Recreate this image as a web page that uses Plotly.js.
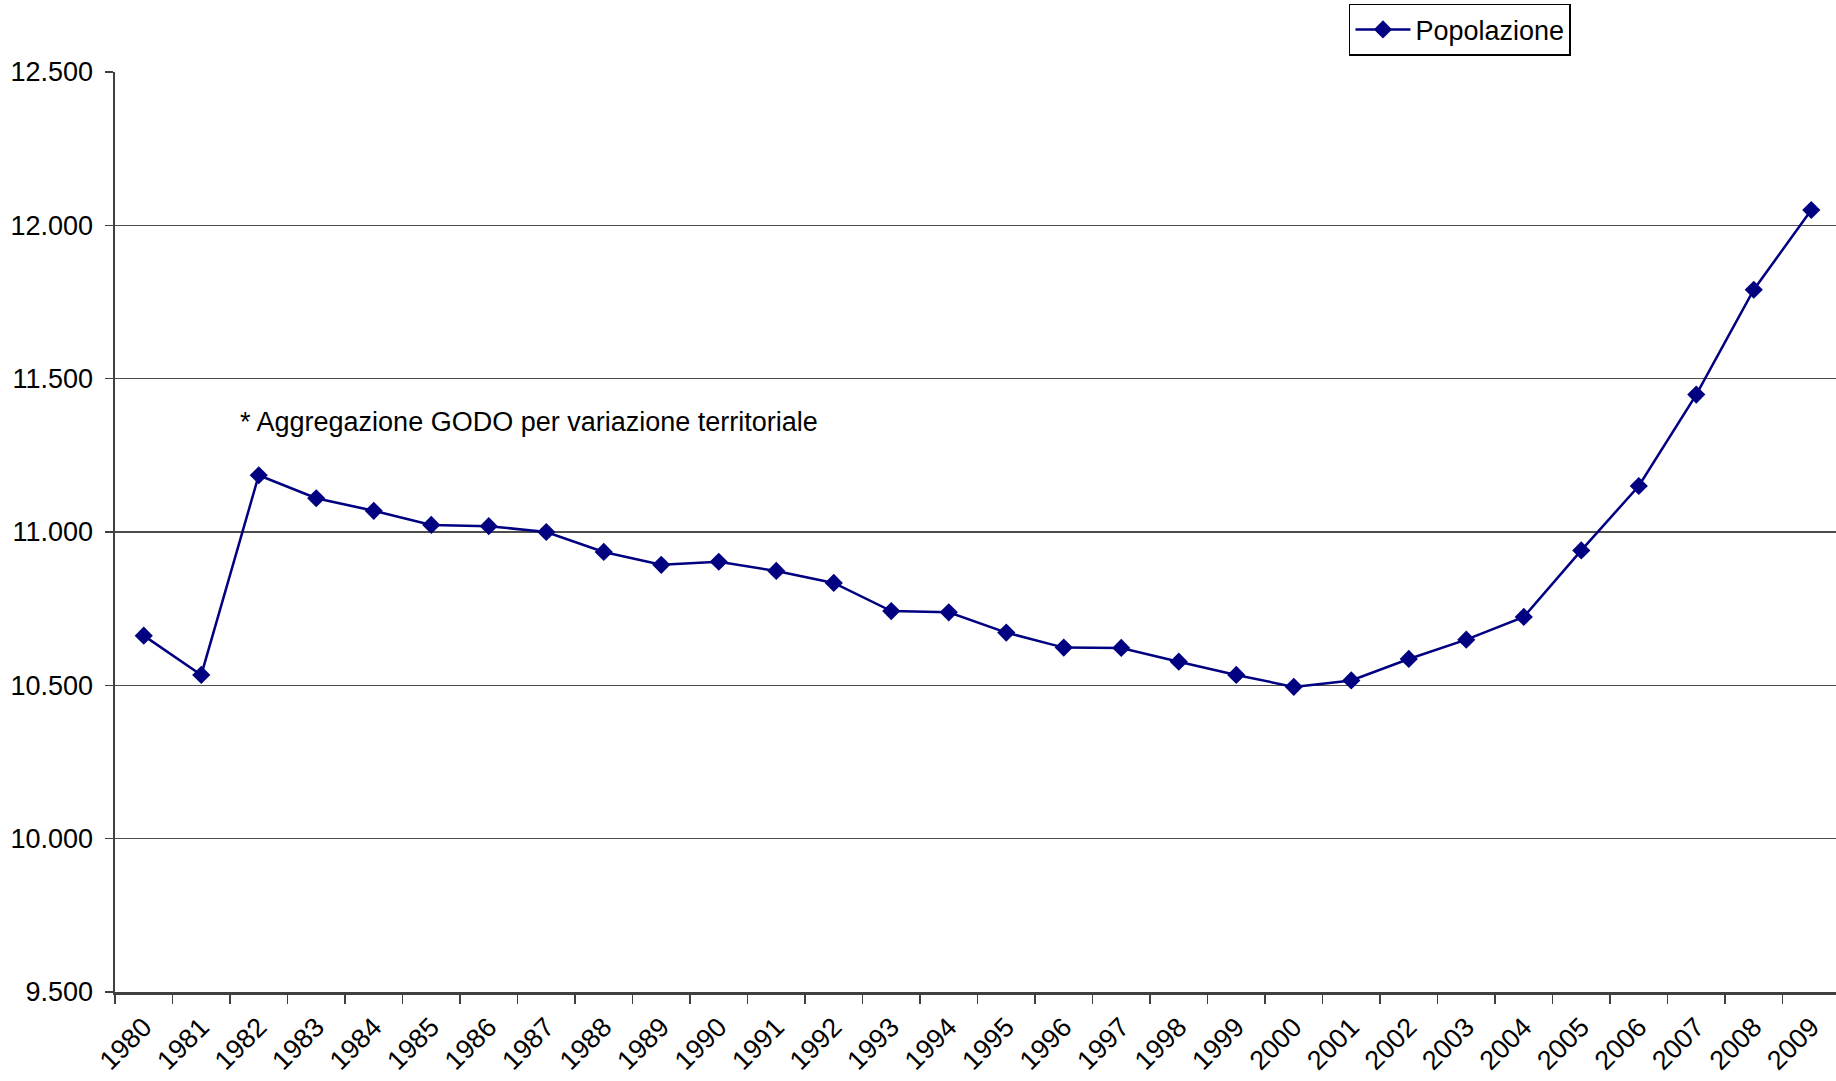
<!DOCTYPE html>
<html>
<head>
<meta charset="utf-8">
<script src="https://cdn.plot.ly/plotly-3.0.1.min.js"></script>
<style>html,body{margin:0;padding:0;background:#fff;}#chart{width:1836px;height:1081px;}</style>
</head>
<body>
<div id="chart"></div>
<script>
const years = ["1980","1981","1982","1983","1984","1985","1986","1987","1988","1989",
  "1990","1991","1992","1993","1994","1995","1996","1997","1998","1999",
  "2000","2001","2002","2003","2004","2005","2006","2007","2008","2009"];
const popolazione = [10662, 10534, 11185, 11110, 11069, 11023, 11019, 11000, 10935, 10893,
  10903, 10873, 10834, 10742, 10738, 10672, 10623, 10622, 10577, 10534,
  10495, 10516, 10586, 10649, 10723, 10940, 11150, 11448, 11790, 12050];
const seriesName = "Popolazione";
const noteText = "* Aggregazione GODO per variazione territoriale";
const yTicks = [9500, 10000, 10500, 11000, 11500, 12000, 12500];

const FONT = "'Liberation Sans', Arial, sans-serif";
const FS = 27;

const trace = {
  x: years,
  y: popolazione,
  name: seriesName,
  type: "scatter",
  mode: "lines+markers",
  line: {color: "#000080", width: 2.5},
  marker: {symbol: "diamond", size: 14, color: "#000080"},
  showlegend: true
};

const layout = {
  width: 1836,
  height: 1081,
  margin: {l: 115, r: 0, t: 72, b: 89},
  paper_bgcolor: "#ffffff",
  plot_bgcolor: "#ffffff",
  font: {family: FONT, size: FS, color: "#000000"},
  showlegend: true,
  separators: ",.",
  legend: {
    x: 0.717, y: 1.074, xanchor: "left", yanchor: "top",
    bgcolor: "#ffffff", bordercolor: "#000000", borderwidth: 1.5,
    font: {family: FONT, size: FS, color: "#000000"},
    itemwidth: 55
  },
  xaxis: {
    type: "category",
    range: [-0.5, 29.43],
    tickson: "boundaries",
    ticks: "outside",
    ticklen: 9,
    tickwidth: 1.5,
    tickcolor: "#404040",
    tickangle: -45,
    ticklabelstandoff: 6,
    showline: true,
    linecolor: "#404040",
    linewidth: 2.5,
    showgrid: false,
    zeroline: false,
    tickfont: {family: FONT, size: FS, color: "#000000"}
  },
  yaxis: {
    range: [9500, 12500],
    tickvals: yTicks,
    tickformat: ",.0f",
    ticks: "outside",
    ticklen: 8,
    tickwidth: 1.5,
    tickcolor: "#404040",
    showline: true,
    linecolor: "#404040",
    linewidth: 2.5,
    showgrid: true,
    gridcolor: "#4d4d4d",
    gridwidth: 1.2,
    zeroline: false,
    ticklabelstandoff: 6,
    tickfont: {family: FONT, size: FS, color: "#000000"}
  },
  annotations: [{
    text: noteText,
    xref: "paper", yref: "y",
    x: 0.0715, y: 11360,
    xanchor: "left", yanchor: "middle",
    showarrow: false,
    font: {family: FONT, size: FS, color: "#000000"}
  }]
};

Plotly.newPlot("chart", [trace], layout, {displayModeBar: false, staticPlot: true});
</script>
</body>
</html>
